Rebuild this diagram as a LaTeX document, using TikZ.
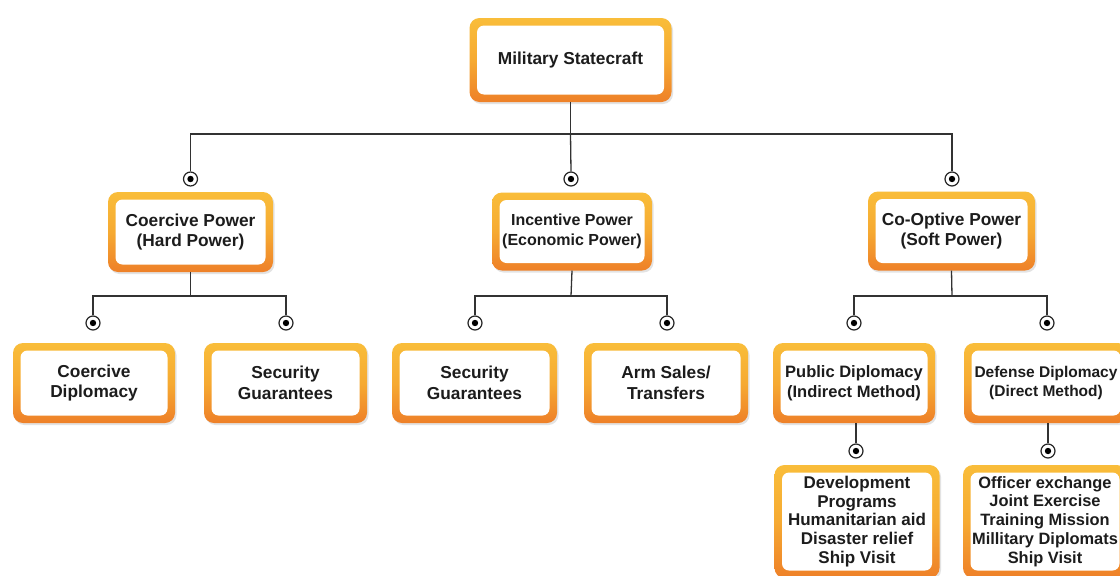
\documentclass[tikz,border=0pt]{standalone}
\usepackage{fontspec}
\setmainfont{Liberation Sans}
\usetikzlibrary{shadows}
\definecolor{oy}{RGB}{249,189,58}
\definecolor{om}{RGB}{246,170,50}
\definecolor{oo}{RGB}{238,128,40}
\definecolor{ln}{RGB}{50,50,50}
\definecolor{tx}{RGB}{28,28,28}
\tikzset{
  obox/.style={rounded corners=10pt, top color=oy, bottom color=oo, middle color=om,
    path picture={\fill[white, rounded corners=7pt]
      ([shift={(7.5pt,7.5pt)}]path picture bounding box.south west) rectangle
      ([shift={(-7.5pt,-7.5pt)}]path picture bounding box.north east);},
    drop shadow={shadow xshift=1.5pt, shadow yshift=-2pt, opacity=0.18, fill=black!60},
    text=tx, align=center, inner sep=0pt, font=\bfseries\fontsize{17.3}{20.5}\selectfont},
  bw/.style 2 args={minimum width=#1pt, minimum height=#2pt},
  dotmark/.style={circle, draw=black!85, line width=1.2pt, fill=white, minimum size=14pt, inner sep=0pt,
    path picture={\fill[black] (path picture bounding box.center) circle (3.2pt);}},
  conn/.style={draw=ln, line width=1.3pt},
}
\begin{document}
\begin{tikzpicture}
\path[use as bounding box, fill=white] (0,0) rectangle (1120pt,-576pt);
% boxes
\node[obox, bw={202}{84}] (ms) at (570.5pt,-60pt) {Military Statecraft};
\node[obox, bw={165}{80}] (cp) at (190.5pt,-232pt) {Coercive Power\\(Hard Power)};
\node[obox, bw={160}{78}, font=\bfseries\fontsize{16}{20}\selectfont] (ip) at (572pt,-231.5pt) {Incentive Power\\(Economic Power)};
\node[obox, bw={167}{79}] (cop) at (951.5pt,-231pt) {Co-Optive Power\\(Soft Power)};
\node[obox, bw={162}{80}] (cd) at (94pt,-383pt) {Coercive\\Diplomacy};
\node[obox, bw={163}{80}] (sg1) at (285.5pt,-383pt) {Security\\Guarantees};
\node[obox, bw={165}{80}] (sg2) at (474.5pt,-383pt) {Security\\Guarantees};
\node[obox, bw={164}{80}] (as) at (666pt,-383pt) {Arm Sales/\\Transfers};
\node[obox, bw={162}{80}, font=\bfseries\fontsize{16.5}{20}\selectfont] (pd) at (854pt,-383pt) {Public Diplomacy\\(Indirect Method)};
\node[obox, bw={164}{80}, font=\bfseries\fontsize{15.5}{19.5}\selectfont] (dd) at (1046pt,-383pt) {Defense Diplomacy\\(Direct Method)};
\node[obox, bw={165}{113}, font=\bfseries\fontsize{17}{18.8}\selectfont] (la) at (857pt,-521.5pt) {Development\\Programs\\Humanitarian aid\\Disaster relief\\Ship Visit};
\node[obox, bw={164}{113}, font=\bfseries\fontsize{16.4}{18.8}\selectfont] (lb) at (1045pt,-521.5pt) {Officer exchange\\Joint Exercise\\Training Mission\\Millitary Diplomats\\Ship Visit};
% dots
\node[dotmark] (dcp) at (190.5pt,-179pt) {};
\node[dotmark] (dip) at (571pt,-179pt) {};
\node[dotmark] (dcop) at (952pt,-179pt) {};
\node[dotmark] (dcd) at (93pt,-323pt) {};
\node[dotmark] (dsg1) at (286pt,-323pt) {};
\node[dotmark] (dsg2) at (475pt,-323pt) {};
\node[dotmark] (das) at (667pt,-323pt) {};
\node[dotmark] (dpd) at (854pt,-323pt) {};
\node[dotmark] (ddd) at (1047pt,-323pt) {};
\node[dotmark] (dla) at (856pt,-451pt) {};
\node[dotmark] (dlb) at (1048pt,-451pt) {};
% junctions
\coordinate (j0) at (570.5pt,-134pt);
\coordinate (j1) at (190.5pt,-296pt);
\coordinate (j2) at (571pt,-296pt);
\coordinate (j3) at (952pt,-296pt);
% connectors
\draw[conn] (ms.south) -- (j0);
\draw[conn] (dcp.north) |- (j0) -| (dcop.north);
\draw[conn] (j0) -- (dip.north);
\draw[conn] (cp.south) -- (j1);
\draw[conn] (dcd.north) |- (j1) -| (dsg1.north);
\draw[conn] (ip.south) -- (j2);
\draw[conn] (dsg2.north) |- (j2) -| (das.north);
\draw[conn] (cop.south) -- (j3);
\draw[conn] (dpd.north) |- (j3) -| (ddd.north);
\draw[conn] (dla.north |- pd.south) -- (dla.north);
\draw[conn] (dlb.north |- dd.south) -- (dlb.north);
\end{tikzpicture}
\end{document}
